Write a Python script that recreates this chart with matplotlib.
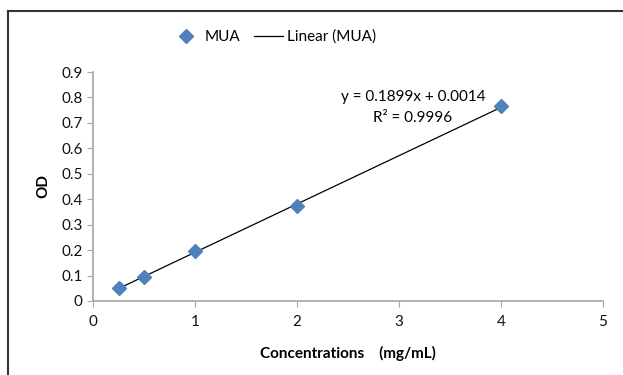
import matplotlib
matplotlib.use("Agg")
import matplotlib.pyplot as plt
from matplotlib.lines import Line2D
import numpy as np

plt.rcParams['font.family'] = ['Lato', 'DejaVu Sans']

conc = [0.25, 0.5, 1, 2, 4]
od = [0.05, 0.093, 0.195, 0.372, 0.765]
slope, intercept = 0.1899, 0.0014
xticks = [0, 1, 2, 3, 4, 5]
yticks = [0, 0.1, 0.2, 0.3, 0.4, 0.5, 0.6, 0.7, 0.8, 0.9]

fig = plt.figure(figsize=(6.23, 3.75), dpi=100)
ax = fig.add_axes([93 / 623, 74 / 375, 510 / 623, 229 / 375])

fit_x = np.array([conc[0], conc[-1]])
ax.plot(fit_x, slope * fit_x + intercept, color="black", lw=0.9, zorder=2)
ax.plot(conc, od, linestyle="none", marker="D", color="#4F81BD",
        markersize=7.5, zorder=3)

ax.set_xlim(0, 5)
ax.set_ylim(0, 0.9)
ax.set_xticks(xticks)
ax.set_yticks(yticks)
ax.set_yticklabels([f"{v:g}" for v in yticks])
for s in ("top", "right"):
    ax.spines[s].set_visible(False)
for s in ("left", "bottom"):
    ax.spines[s].set_color("#A6A6A6")
    ax.spines[s].set_linewidth(1.2)
ax.tick_params(direction="out", length=4, color="#A6A6A6", labelsize=11,
               labelcolor="#111111")
ax.tick_params(axis="x", pad=6)

ax.set_xlabel("Concentrations    (mg/mL)", fontsize=11, fontweight="bold",
              labelpad=12)
ax.set_ylabel("OD", fontsize=11, fontweight="bold", labelpad=8)

ax.text(413 / 623, 1 - 97 / 375, "y = 0.1899x + 0.0014", transform=fig.transFigure,
        ha="center", va="center", fontsize=11)
ax.text(413 / 623, 1 - 118 / 375, "R² = 0.9996", transform=fig.transFigure,
        ha="center", va="center", fontsize=11)

handles = [Line2D([], [], linestyle="none", marker="D", color="#4F81BD", markersize=7.5),
           Line2D([], [], color="black", lw=0.9)]
fig.legend(handles, ["MUA", "Linear (MUA)"], loc="center", ncol=2,
           bbox_to_anchor=(274 / 623, 1 - 37 / 375), frameon=False, fontsize=11,
           handlelength=1.9, columnspacing=0.9, handletextpad=0.25)

# chart frame (cropped at right and bottom)
fig.add_artist(Line2D([8 / 623, 8 / 623], [0, 1 - 11 / 375],
                      transform=fig.transFigure, color="#333333", lw=1.5))
fig.add_artist(Line2D([8 / 623, 1], [1 - 11 / 375, 1 - 11 / 375],
                      transform=fig.transFigure, color="#333333", lw=1.5))

fig.savefig("out.png", dpi=100)
